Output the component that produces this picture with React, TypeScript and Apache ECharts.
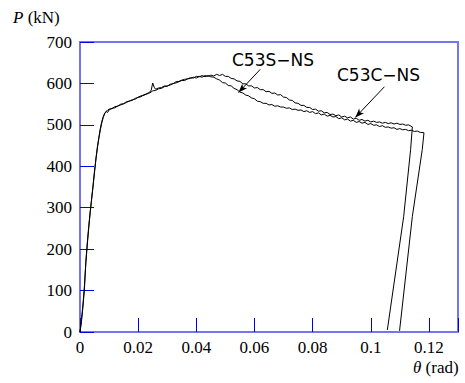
import React, { useEffect, useRef } from "react";
import * as echarts from "echarts";

const xTicks = [0, 0.02, 0.04, 0.06, 0.08, 0.1, 0.12];
const yTicks = [0, 100, 200, 300, 400, 500, 600, 700];

const seriesNames = ["C53S−NS", "C53C−NS"];

const c53s: [number, number][] = [
  [0, 0], [0.0005, 25], [0.001, 60], [0.0015, 100], [0.002, 170], [0.0025, 215], [0.003, 255], [0.0035, 290],
  [0.004, 320], [0.0045, 355], [0.005, 390], [0.0055, 420], [0.006, 448], [0.0065, 470], [0.007, 492],
  [0.0075, 508], [0.008, 520], [0.0085, 528], [0.009, 532], [0.0095, 530],
  [0.010, 536], [0.011, 540], [0.012, 541], [0.013, 546], [0.014, 548], [0.015, 551], [0.016, 554],
  [0.017, 558], [0.018, 559], [0.019, 564], [0.020, 566], [0.021, 568], [0.022, 573], [0.023, 574],
  [0.024, 579], [0.0245, 584], [0.025, 601], [0.0255, 591], [0.026, 586], [0.027, 589], [0.028, 590],
  [0.029, 594], [0.030, 593], [0.031, 598], [0.032, 599], [0.033, 604], [0.034, 605], [0.035, 608],
  [0.036, 610], [0.037, 611], [0.038, 614], [0.039, 613], [0.040, 617], [0.041, 616], [0.042, 619],
  [0.043, 616], [0.044, 619], [0.045, 616], [0.046, 615], [0.047, 611], [0.048, 608], [0.049, 602],
  [0.050, 601], [0.051, 595], [0.052, 594], [0.053, 588], [0.054, 585], [0.055, 579], [0.056, 577],
  [0.057, 572], [0.058, 570], [0.059, 565], [0.060, 563], [0.061, 557], [0.062, 556], [0.063, 552],
  [0.064, 552], [0.065, 548], [0.066, 549], [0.067, 545], [0.068, 546], [0.069, 543], [0.070, 543],
  [0.071, 540], [0.072, 541], [0.073, 537], [0.074, 538], [0.075, 535], [0.076, 536], [0.077, 532],
  [0.078, 534], [0.079, 530], [0.080, 532], [0.081, 527], [0.082, 529], [0.083, 524], [0.084, 526],
  [0.085, 521], [0.086, 523], [0.087, 519], [0.088, 520], [0.089, 515], [0.090, 517], [0.091, 512],
  [0.092, 514], [0.093, 509], [0.094, 511], [0.095, 506], [0.096, 508], [0.097, 504], [0.098, 506],
  [0.099, 501], [0.100, 503], [0.101, 499], [0.102, 500], [0.103, 496], [0.104, 498], [0.105, 494],
  [0.106, 495], [0.107, 492], [0.108, 493], [0.109, 489], [0.110, 491], [0.111, 488], [0.112, 489],
  [0.113, 486], [0.114, 487], [0.115, 484], [0.116, 485], [0.117, 482], [0.1183, 481],
  [0.1177, 440], [0.1143, 279], [0.1099, 3],
];

const c53c: [number, number][] = [
  [0, 0], [0.0005, 30], [0.001, 65], [0.0015, 110], [0.002, 165], [0.0025, 210], [0.003, 250], [0.0035, 288],
  [0.004, 322], [0.0045, 352], [0.005, 385], [0.0055, 418], [0.006, 445], [0.0065, 468], [0.007, 488],
  [0.0075, 505], [0.008, 518], [0.0085, 527], [0.009, 533], [0.0095, 535],
  [0.010, 538], [0.011, 539], [0.012, 544], [0.013, 545], [0.014, 550], [0.015, 551], [0.016, 556],
  [0.017, 557], [0.018, 561], [0.019, 562], [0.020, 567], [0.021, 570], [0.022, 571], [0.023, 576],
  [0.024, 577], [0.025, 582], [0.026, 583], [0.027, 587], [0.028, 588], [0.029, 592], [0.030, 594],
  [0.031, 596], [0.032, 600], [0.033, 601], [0.034, 604], [0.035, 607], [0.036, 607], [0.037, 611],
  [0.038, 612], [0.039, 615], [0.040, 613], [0.041, 617], [0.042, 615], [0.043, 619], [0.044, 617],
  [0.045, 620], [0.046, 618], [0.047, 622], [0.048, 619], [0.049, 622], [0.050, 617], [0.051, 617],
  [0.052, 612], [0.053, 611], [0.054, 606], [0.055, 605], [0.056, 599], [0.057, 599], [0.058, 594],
  [0.059, 594], [0.060, 589], [0.061, 590], [0.062, 585], [0.063, 585], [0.064, 580], [0.065, 581],
  [0.066, 576], [0.067, 577], [0.068, 572], [0.069, 573], [0.070, 567], [0.071, 566], [0.072, 560],
  [0.073, 559], [0.074, 553], [0.075, 552], [0.076, 547], [0.077, 547], [0.078, 542], [0.079, 542],
  [0.080, 537], [0.081, 538], [0.082, 533], [0.083, 534], [0.084, 529], [0.085, 530], [0.086, 525],
  [0.087, 526], [0.088, 522], [0.089, 524], [0.090, 519], [0.091, 521], [0.092, 517], [0.093, 519],
  [0.094, 514], [0.095, 516], [0.096, 511], [0.097, 513], [0.098, 509], [0.099, 511], [0.100, 507],
  [0.101, 509], [0.102, 506], [0.103, 507], [0.104, 504], [0.105, 506], [0.106, 503], [0.107, 505],
  [0.108, 502], [0.109, 504], [0.110, 501], [0.111, 502], [0.112, 499], [0.113, 500], [0.1143, 495],
  [0.1137, 440], [0.1113, 278], [0.1057, 5],
];

// annotation arrows: [from, to] in data space
const arrowS: [number, number][] = [[0.062, 634], [0.0545, 578]];
const arrowC: [number, number][] = [[0.1047, 592], [0.0947, 518]];

const SERIF = "Liberation Serif";
const SANS = "DejaVu Sans";
const BORDER = "#7575f2";
const TICK = "#0000ee";

export default function App() {
  const ref = useRef<HTMLDivElement>(null);
  useEffect(() => {
    if (!ref.current) return;
    const chart = echarts.init(ref.current, undefined, { renderer: "svg" });
    chart.setOption({
      animation: false,
      backgroundColor: "#ffffff",
      grid: {
        left: 80, top: 42, width: 378, height: 290,
        show: true, borderColor: BORDER, borderWidth: 2, backgroundColor: "transparent",
      },
      xAxis: {
        type: "value", min: 0, max: 0.13, interval: 0.02,
        axisLine: { show: false },
        splitLine: { show: false },
        axisTick: { show: true, inside: true, length: 14, lineStyle: { color: TICK, width: 1 } },
        axisLabel: {
          show: true, margin: 7, fontFamily: SERIF, fontSize: 17, color: "#000",
          formatter: (v: number) => (xTicks.some((t) => Math.abs(t - v) < 1e-9) ? String(+v.toFixed(2)) : ""),
        },
      },
      yAxis: {
        type: "value", min: 0, max: 700, interval: 100,
        axisLine: { show: false },
        splitLine: { show: false },
        axisTick: { show: true, inside: true, length: 14, lineStyle: { color: TICK, width: 1 } },
        axisLabel: {
          show: true, margin: 8, fontFamily: SERIF, fontSize: 17, color: "#000",
          formatter: (v: number) => (yTicks.includes(v) ? String(v) : ""),
        },
      },
      series: [
        {
          name: seriesNames[0], type: "line", data: c53s, showSymbol: false, symbol: "none",
          lineStyle: { color: "#000", width: 1 },
          markLine: {
            silent: true, symbol: ["none", "arrow"], symbolSize: [5, 9],
            lineStyle: { color: "#000", width: 1, type: "solid" },
            label: { show: false },
            data: [[{ coord: arrowS[0] }, { coord: arrowS[1] }]],
          },
        },
        {
          name: seriesNames[1], type: "line", data: c53c, showSymbol: false, symbol: "none",
          lineStyle: { color: "#000", width: 1 },
          markLine: {
            silent: true, symbol: ["none", "arrow"], symbolSize: [5, 9],
            lineStyle: { color: "#000", width: 1, type: "solid" },
            label: { show: false },
            data: [[{ coord: arrowC[0] }, { coord: arrowC[1] }]],
          },
        },
      ],
      graphic: [
        {
          type: "text", left: 13, top: 9,
          style: {
            text: "{i|P} (kN)", fontFamily: SERIF, fontSize: 17, fill: "#000",
            rich: { i: { fontStyle: "italic", fontFamily: SERIF, fontSize: 17 } },
          },
        },
        {
          type: "text", left: 413, top: 359,
          style: {
            text: "{i|θ} (rad)", fontFamily: SERIF, fontSize: 17, fill: "#000",
            rich: { i: { fontStyle: "italic", fontFamily: SERIF, fontSize: 17 } },
          },
        },
        {
          type: "text", left: 232, top: 51,
          style: { text: seriesNames[0], fontFamily: SANS, fontSize: 17, fill: "#000" },
        },
        {
          type: "text", left: 337, top: 66,
          style: { text: seriesNames[1], fontFamily: SANS, fontSize: 17, fill: "#000" },
        },
      ],
    });
    return () => chart.dispose();
  }, []);
  return (
    <div
      ref={ref}
      style={{ position: "absolute", left: 0, top: 0, width: 465, height: 383 }}
    />
  );
}
